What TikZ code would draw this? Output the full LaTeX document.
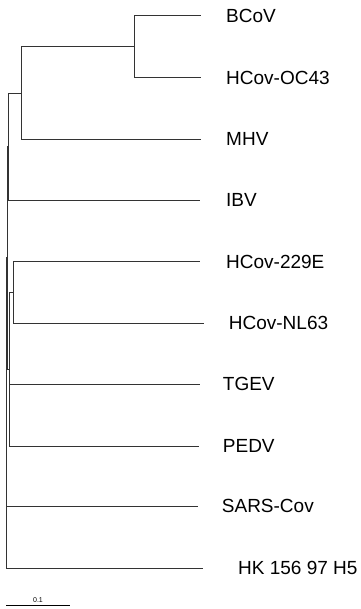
\documentclass[tikz,border=0pt]{standalone}
\usepackage{fontspec}
\setmainfont{Liberation Sans}
\begin{document}
\begin{tikzpicture}[x=1pt,y=-1pt,
  branch/.style={draw=black!80,line width=0.9pt},
  leaflabel/.style={anchor=west,inner sep=0pt,text height=13.6pt,text depth=0pt,font=\fontsize{19}{22}\selectfont},
  scalelabel/.style={inner sep=0pt,font=\fontsize{7}{8}\selectfont}]
\useasboundingbox (0,0) rectangle (360,609);
% tips
\coordinate (tBCoV) at (201,15);
\coordinate (tOC43) at (201,77);
\coordinate (tMHV) at (201,139);
\coordinate (tIBV) at (200,200);
\coordinate (t229E) at (200,261);
\coordinate (tNL63) at (203.5,323);
\coordinate (tTGEV) at (200,384);
\coordinate (tPEDV) at (198.5,446);
\coordinate (tSARS) at (198,506);
\coordinate (tHK) at (203,568);
% internal nodes
\coordinate (nBO) at (134,46);
\coordinate (nBOM) at (21,93);
\coordinate (nIBV) at (8,146.5);
\coordinate (nA) at (13,292);
\coordinate (nY) at (9.5,369);
\coordinate (nX) at (7.5,257.5);
\coordinate (root) at (6.5,412.75);
% branches
\draw[branch] (nBO) |- (tBCoV);
\draw[branch] (nBO) |- (tOC43);
\draw[branch] (nBOM) |- (nBO);
\draw[branch] (nBOM) |- (tMHV);
\draw[branch] (nIBV) |- (nBOM);
\draw[branch] (nIBV) |- (tIBV);
\draw[branch] (nA) |- (t229E);
\draw[branch] (nA) |- (tNL63);
\draw[branch] (nY) |- (nA);
\draw[branch] (nY) |- (tTGEV);
\draw[branch] (nY) |- (tPEDV);
\draw[branch] (nX) |- (nIBV);
\draw[branch] (nX) |- (nY);
\draw[branch] (root) |- (nX);
\draw[branch] (root) |- (tSARS);
\draw[branch] (root) |- (tHK);
% labels
\node[leaflabel] (lBCoV) at (226,16) {BCoV};
\node[leaflabel] (lOC43) at (226,77.5) {HCov-OC43};
\node[leaflabel] (lMHV) at (226,139) {MHV};
\node[leaflabel] (lIBV) at (226,200) {IBV};
\node[leaflabel] (l229E) at (226,261.5) {HCov-229E};
\node[leaflabel] (lNL63) at (228.7,323) {HCov-NL63};
\node[leaflabel] (lTGEV) at (222.7,384) {TGEV};
\node[leaflabel] (lPEDV) at (222.7,446) {PEDV};
\node[leaflabel] (lSARS) at (221.7,506) {SARS-Cov};
\node[leaflabel] (lHK) at (238,568) {HK 156 97 H5};
% scale bar
\coordinate (sbL) at (6,605.7);
\coordinate (sbR) at (70,605.7);
\draw[branch,draw=black] (sbL) -- (sbR);
\node[scalelabel] (sbT) at (38,600.5) {0.1};
\end{tikzpicture}
\end{document}
